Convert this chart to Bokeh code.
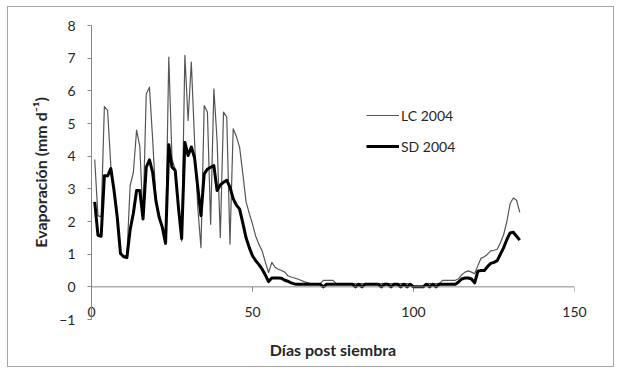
from bokeh.plotting import figure
from bokeh.models import FixedTicker, Legend, LegendItem, Span
from bokeh.embed import file_html
from bokeh.resources import INLINE

days = list(range(1, 134))

lc_2004 = [
    3.9, 2.18, 2.14, 5.52, 5.4, 3.7, 2.98, 2.15, 1.05, 0.95,
    0.95, 3.1, 3.5, 4.8, 4.3, 2.08, 5.9, 6.11, 4.5, 2.7,
    2.2, 1.85, 1.33, 7.03, 3.9, 3.6, 2.45, 1.4, 7.09, 5.09,
    6.88, 4.48, 2.43, 1.2, 5.55, 5.35, 1.92, 6.06, 4.48, 1.51,
    5.35, 5.2, 1.31, 4.84, 4.6, 4.27, 3.46, 2.6, 2.25, 1.92,
    1.55, 1.3, 1.1, 0.75, 0.44, 0.75, 0.6, 0.54, 0.5, 0.45,
    0.34, 0.3, 0.27, 0.24, 0.2, 0.16, 0.13, 0.1, 0.1, 0.1,
    0.1, 0.2, 0.2, 0.2, 0.2, 0.1, 0.1, 0.1, 0.1, 0.1,
    0.1, 0.1, 0.1, 0.1, 0.1, 0.1, 0.1, 0.1, 0.1, 0.1,
    0.1, 0.1, 0.1, 0.1, 0.1, 0.1, 0.1, 0.1, 0.1, 0.0,
    0.0, 0.0, 0.0, 0.1, 0.1, 0.1, 0.1, 0.1, 0.2, 0.2,
    0.2, 0.2, 0.2, 0.25, 0.37, 0.45, 0.49, 0.45, 0.4, 0.65,
    0.88, 0.92, 1.0, 1.1, 1.12, 1.15, 1.35, 1.6, 2.0, 2.55,
    2.72, 2.65, 2.28,
]

sd_2004 = [
    2.6, 1.58, 1.55, 3.4, 3.4, 3.62, 2.95, 2.13, 1.02, 0.92,
    0.9, 1.75, 2.25, 2.95, 2.95, 2.08, 3.66, 3.89, 3.5, 2.64,
    2.13, 1.82, 1.33, 4.35, 3.66, 3.56, 2.43, 1.48, 4.42, 4.02,
    4.28, 3.95, 3.05, 2.18, 3.46, 3.6, 3.66, 3.71, 2.95, 3.12,
    3.2, 3.26, 3.05, 2.7, 2.5, 2.38, 1.95, 1.5, 1.2, 0.95,
    0.8, 0.68, 0.54, 0.36, 0.16, 0.27, 0.27, 0.27, 0.26, 0.2,
    0.17, 0.12, 0.09, 0.08, 0.08, 0.08, 0.08, 0.08, 0.08, 0.08,
    0.08, 0.0, 0.08, 0.08, 0.08, 0.08, 0.08, 0.08, 0.08, 0.08,
    0.08, 0.0, 0.08, 0.0, 0.08, 0.08, 0.08, 0.08, 0.08, 0.0,
    0.08, 0.08, 0.0, 0.08, 0.08, 0.0, 0.08, 0.0, 0.08, 0.0,
    0.0, 0.0, 0.0, 0.08, 0.0, 0.08, 0.0, 0.08, 0.08, 0.08,
    0.08, 0.08, 0.08, 0.15, 0.24, 0.27, 0.27, 0.24, 0.12, 0.48,
    0.5, 0.5, 0.62, 0.72, 0.75, 0.8, 1.0, 1.2, 1.45, 1.65,
    1.67, 1.55, 1.43,
]

x_ticks = [0, 50, 100, 150]
y_ticks = [-1, 0, 1, 2, 3, 4, 5, 6, 7, 8]
series_names = ["LC 2004", "SD 2004"]
x_title = "Días post siembra"
y_title = "Evaporación (mm d⁻¹)"

FONT = "Lato"
AXIS_GRAY = "#868686"
TEXT = "#262626"

p = figure(
    width=607, height=361,
    x_range=(0, 150), y_range=(-1, 8),
    output_backend="svg", toolbar_location=None,
    min_border_left=83, min_border_right=41,
    min_border_top=18, min_border_bottom=49,
    margin=(6, 0, 0, 7),
    styles={"border": "1px solid #a6a6a6"},
)
p.background_fill_color = "white"
p.border_fill_color = "white"
p.outline_line_color = None
p.xgrid.visible = False
p.ygrid.visible = False

# x axis: labels sit in the band between 0 and -1, like Excel's crossing axis
xa = p.xaxis[0]
xa.ticker = FixedTicker(ticks=x_ticks)
xa.axis_line_color = None
xa.major_tick_line_color = None
xa.minor_tick_line_color = None
xa.major_tick_out = 0
xa.major_tick_in = 0
xa.major_label_standoff = -13
xa.major_label_text_font = FONT
xa.major_label_text_font_size = "14px"
xa.major_label_text_color = TEXT
xa.axis_label = x_title
xa.axis_label_standoff = 20
xa.axis_label_text_font = FONT
xa.axis_label_text_font_size = "16px"
xa.axis_label_text_font_style = "bold"
xa.axis_label_text_color = TEXT

# the visible x-axis line at y = 0 with outward ticks
p.add_layout(Span(location=0, dimension="width", line_color=AXIS_GRAY, line_width=1))
p.segment(x0=x_ticks, y0=[0] * len(x_ticks), x1=x_ticks, y1=[-0.15] * len(x_ticks),
          line_color=AXIS_GRAY, line_width=1)

ya = p.yaxis[0]
ya.ticker = FixedTicker(ticks=y_ticks)
ya.axis_line_color = AXIS_GRAY
ya.major_tick_line_color = AXIS_GRAY
ya.major_tick_out = 4
ya.major_tick_in = 0
ya.minor_tick_line_color = None
ya.major_label_standoff = 12
ya.major_label_text_font = FONT
ya.major_label_text_font_size = "14px"
ya.major_label_text_color = TEXT
ya.axis_label = y_title
ya.axis_label_standoff = 6
ya.axis_label_text_font = FONT
ya.axis_label_text_font_size = "16px"
ya.axis_label_text_font_style = "bold"
ya.axis_label_text_color = TEXT

r_lc = p.line(days, lc_2004, line_color="#555555", line_width=1.2, line_join="round")
r_sd = p.line(days, sd_2004, line_color="black", line_width=3, line_join="round")

legend = Legend(
    items=[LegendItem(label=series_names[0], renderers=[r_lc]),
           LegendItem(label=series_names[1], renderers=[r_sd])],
    location=(265, 153),
    glyph_width=33, glyph_height=20, label_standoff=2, spacing=11,
    padding=10, margin=0,
    border_line_alpha=0, background_fill_alpha=0,
    label_text_font=FONT, label_text_font_size="14px", label_text_color=TEXT,
)
p.add_layout(legend)

open("out.html", "w").write(file_html(p, INLINE))
